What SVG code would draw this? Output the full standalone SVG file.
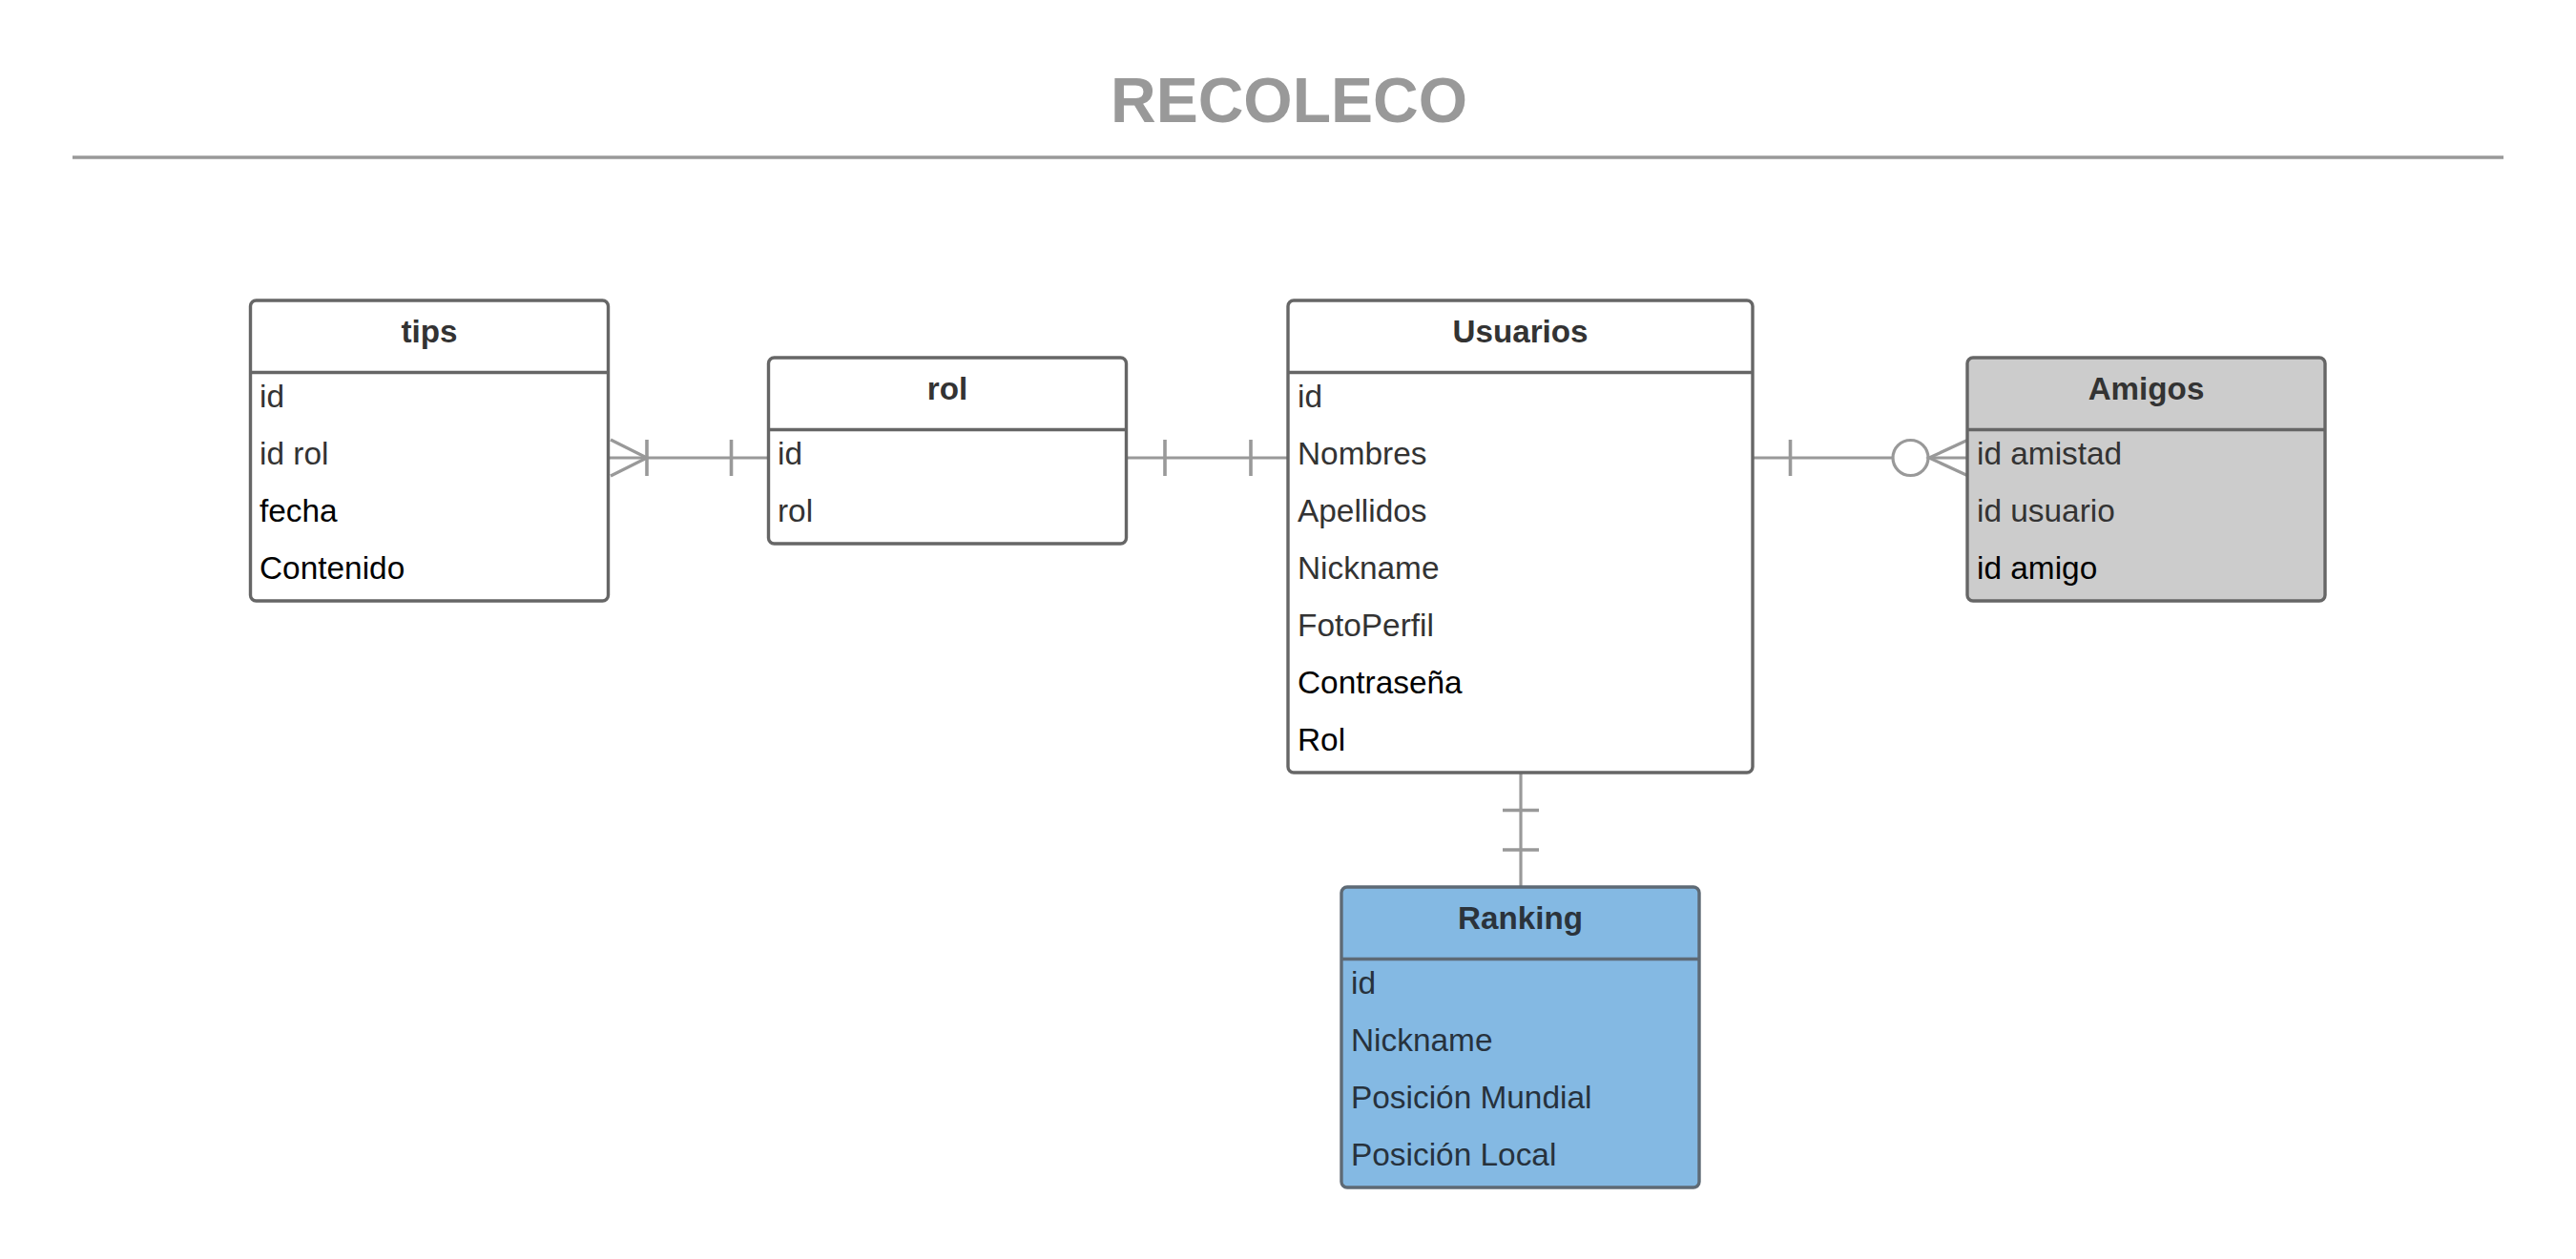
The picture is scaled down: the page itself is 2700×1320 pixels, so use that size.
<svg xmlns="http://www.w3.org/2000/svg" width="2700" height="1320" viewBox="0 0 2700 1320">
<style>
  .box { fill: #ffffff; stroke: #666666; stroke-width: 3.4; }
  .div { stroke: #666666; stroke-width: 3.6; }
  .hdr { font-family: "Liberation Sans", Arial, sans-serif; font-size: 33.2px; font-weight: bold; fill: #333333; text-anchor: middle; }
  .row { font-family: "Liberation Sans", Arial, sans-serif; font-size: 33.4px; fill: #333333; }
  .blk { fill: #000000; }
  .conn { fill: none; stroke: #999999; stroke-width: 3.2; }
  .bar { stroke: #999999; stroke-width: 3.6; }
</style>
<rect width="2700" height="1320" fill="#ffffff"/>
<g id="title">
  <text x="1351" y="128" font-family="'Liberation Sans', Arial, sans-serif" font-size="66" font-weight="bold" fill="#999999" text-anchor="middle">RECOLECO</text>
  <line x1="76" y1="165" x2="2624" y2="165" stroke="#999999" stroke-width="3.5"/>
</g>
<g id="connectors">
  <!-- tips - rol -->
  <line class="conn" x1="637" y1="480" x2="805" y2="480"/>
  <polyline class="conn" points="640,461 678,480 640,499"/>
  <line class="bar" x1="678" y1="461" x2="678" y2="499"/>
  <line class="bar" x1="766.5" y1="461" x2="766.5" y2="499"/>
  <!-- rol - Usuarios -->
  <line class="conn" x1="1181" y1="480" x2="1350" y2="480"/>
  <line class="bar" x1="1221" y1="461" x2="1221" y2="499"/>
  <line class="bar" x1="1311" y1="461" x2="1311" y2="499"/>
  <!-- Usuarios - Amigos -->
  <line class="conn" x1="1837" y1="480" x2="1983" y2="480"/>
  <line class="bar" x1="1876.5" y1="461" x2="1876.5" y2="499"/>
  <circle class="conn" cx="2002.5" cy="480" r="18.5"/>
  <line class="conn" x1="2021" y1="480" x2="2062" y2="480"/>
  <polyline class="conn" points="2062,461.5 2022,480 2062,498.5"/>
  <!-- Usuarios - Ranking -->
  <line class="conn" x1="1594" y1="810" x2="1594" y2="930"/>
  <line class="bar" x1="1575" y1="849.5" x2="1613" y2="849.5"/>
  <line class="bar" x1="1575" y1="891" x2="1613" y2="891"/>
</g>
<g id="tips">
  <rect class="box" x="262.5" y="315" width="375" height="315" rx="6"/>
  <line class="div" x1="262.5" y1="390.5" x2="637.5" y2="390.5"/>
  <text class="hdr" x="450" y="359">tips</text>
  <text class="row" x="272" y="426.7">id</text>
  <text class="row" x="272" y="486.7">id rol</text>
  <text class="row blk" x="272" y="546.7">fecha</text>
  <text class="row blk" x="272" y="606.7">Contenido</text>
</g>
<g id="rol">
  <rect class="box" x="805.5" y="375" width="375" height="195" rx="6"/>
  <line class="div" x1="805.5" y1="450.5" x2="1180.5" y2="450.5"/>
  <text class="hdr" x="993" y="419">rol</text>
  <text class="row" x="815" y="486.7">id</text>
  <text class="row" x="815" y="546.7">rol</text>
</g>
<g id="usuarios">
  <rect class="box" x="1350" y="315" width="487" height="495" rx="6"/>
  <line class="div" x1="1350" y1="390.5" x2="1837" y2="390.5"/>
  <text class="hdr" x="1593.5" y="359">Usuarios</text>
  <text class="row" x="1360" y="426.7">id</text>
  <text class="row" x="1360" y="486.7">Nombres</text>
  <text class="row" x="1360" y="546.7">Apellidos</text>
  <text class="row" x="1360" y="606.7">Nickname</text>
  <text class="row" x="1360" y="666.7">FotoPerfil</text>
  <text class="row blk" x="1360" y="726.7">Contraseña</text>
  <text class="row blk" x="1360" y="786.7">Rol</text>
</g>
<g id="amigos">
  <rect class="box" x="2062" y="375" width="375" height="255" rx="6" style="fill:#cccccc"/>
  <line class="div" x1="2062" y1="450.5" x2="2437" y2="450.5"/>
  <text class="hdr" x="2249.5" y="419">Amigos</text>
  <text class="row" x="2072" y="486.7">id amistad</text>
  <text class="row" x="2072" y="546.7">id usuario</text>
  <text class="row blk" x="2072" y="606.7">id amigo</text>
</g>
<g id="ranking">
  <rect class="box" x="1406" y="930" width="375" height="315" rx="6" style="fill:#84b9e3;stroke:#5e6a75"/>
  <line class="div" x1="1406" y1="1005.5" x2="1781" y2="1005.5" style="stroke:#5e6a75"/>
  <text class="hdr" x="1593.5" y="974" style="fill:#2b333b">Ranking</text>
  <text class="row" x="1416" y="1041.7" style="fill:#27323d">id</text>
  <text class="row" x="1416" y="1101.7" style="fill:#27323d">Nickname</text>
  <text class="row" x="1416" y="1161.7" style="fill:#27323d">Posición Mundial</text>
  <text class="row" x="1416" y="1221.7" style="fill:#27323d">Posición Local</text>
</g>
</svg>
